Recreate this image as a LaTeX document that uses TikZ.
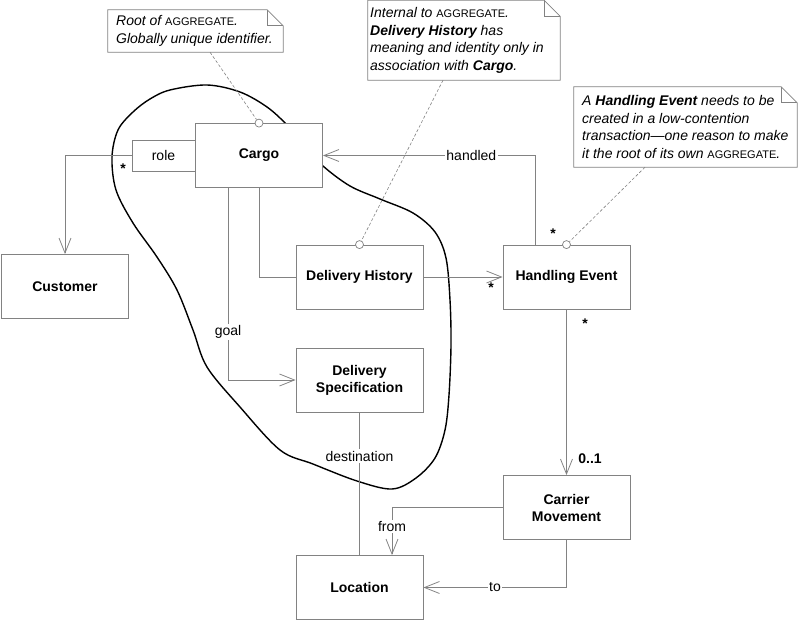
\documentclass[tikz,border=0pt]{standalone}
\usepackage{fontspec}
\setmainfont{Liberation Sans}
\usetikzlibrary{arrows.meta}
\definecolor{linegray}{RGB}{130,130,130}
\newcommand\aggname{{\upshape\fontsize{11}{12}\selectfont AGGREGATE}}
\tikzset{
  cls/.style={draw=linegray, fill=white, line width=0.8pt, font=\bfseries\fontsize{14}{17}\selectfont, align=center, minimum width=127pt, minimum height=64pt, inner sep=0pt},
  qual/.style={draw=linegray, fill=white, line width=0.8pt, font=\fontsize{14}{17}\selectfont, minimum width=63pt, minimum height=31pt, inner sep=0pt},
  notetext/.style={font=\itshape\fontsize{14}{17.5}\selectfont, align=left, inner sep=0pt},
  noteshape/.style={draw=linegray, fill=white, line width=0.8pt},
  conn/.style={draw=linegray, line width=0.8pt},
  navarrow/.style={-{Straight Barb[length=15pt,width=12pt,line width=0.8pt]}},
  lab/.style={fill=white, inner sep=1.5pt, font=\fontsize{14}{16}\selectfont},
  mult/.style={inner sep=0pt, font=\bfseries\fontsize{14}{16}\selectfont},
  noteline/.style={draw=linegray, line width=0.6pt, dash pattern=on 3pt off 2pt},
  notecirc/.style={circle, draw=linegray, fill=white, line width=0.7pt, minimum size=8pt, inner sep=0pt},
  aggline/.style={draw=black, line width=1.4pt}
}
\begin{document}
\begin{tikzpicture}[x=1pt, y=-1pt]
\useasboundingbox (0,0) rectangle (800,620);
% aggregate boundary
\draw[aggline] plot[smooth cycle, tension=0.55] coordinates {
 (112,157) (118,130) (133,112) (150,99) (170,90) (207,85) (240,92) (267,107) (287,125)
 (305,146) (323,166) (350,186) (380,199) (413,213) (435,232) (446,258)
 (450,300) (451,345) (449,395) (445,430) (435,458) (416,478) (392,489)
 (357,481) (313,464) (280,450) (240,407) (207,367) (193,330) (177,290)
 (157,257) (133,223) (116,190)};
% classes
\node[cls] (cargo) at (259,155.5) {Cargo};
\node[qual] (role) at (163.5,155.5) {role};
\node[cls] (cust) at (65,286.5) {Customer};
\node[cls] (dh) at (359.5,277) {Delivery History};
\node[cls] (he) at (566.5,277) {Handling Event};
\node[cls] (ds) at (359.5,380) {Delivery\\Specification};
\node[cls] (cm) at (566.5,507.5) {Carrier\\Movement};
\node[cls] (loc) at (359.5,587.5) {Location};
% connectors
\draw[conn, navarrow] (role.west) -| (cust.north);
\draw[conn] (cargo.south) |- (dh.west);
\draw[conn, navarrow] ([xshift=-31pt]cargo.south) |- node[lab, pos=0.376] (goal) {goal} (ds.west);
\draw[conn, navarrow] (dh.east) -- (he.west);
\draw[conn, navarrow] ([xshift=-31.5pt]he.north) |- node[lab, pos=0.65] (handled) {handled} (cargo.east);
\draw[conn, navarrow] (he.south) -- (cm.north);
\draw[conn] (ds.south) -- node[lab, pos=0.306] (dest) {destination} (loc.north);
\draw[conn, navarrow] (cm.west) -| node[lab, pos=0.698] (from) {from} ([xshift=32.5pt]loc.north);
\draw[conn, navarrow] (cm.south) |- node[lab, pos=0.75] (to) {to} (loc.east);
% multiplicities
\node[mult] (m1) at (123,169) {*};
\node[mult] (m2) at (491,288) {*};
\node[mult] (m3) at (553,234) {*};
\node[mult] (m4) at (585,324) {*};
\node[mult] (m5) at (590,459) {0..1};
% notes
\node[minimum width=175pt, minimum height=42pt, inner sep=0pt] (n1) at (195.5,31) {};
\node[minimum width=192pt, minimum height=79.5pt, inner sep=0pt] (n2) at (464,40.25) {};
\node[minimum width=223pt, minimum height=80pt, inner sep=0pt] (n3) at (685.5,127) {};
\foreach \n in {n1,n2,n3}{
  \draw[noteshape] (\n.north west) -- ([xshift=-16pt]\n.north east) -- ([yshift=-16pt]\n.north east) -- (\n.south east) -- (\n.south west) -- cycle;
  \draw[noteshape, fill=none] ([xshift=-16pt]\n.north east) -- ([xshift=-16pt,yshift=-16pt]\n.north east) -- ([yshift=-16pt]\n.north east);
}
\node[notetext, anchor=west] (t1) at (116,31) {Root of \aggname.\\Globally unique identifier.};
\node[notetext, anchor=west] (t2) at (370,40.5) {Internal to \aggname.\\\textbf{Delivery History} has\\meaning and identity only in\\association with \textbf{Cargo}.};
\node[notetext, anchor=west] (t3) at (582,127) {A \textbf{Handling Event} needs to be\\created in a low-contention\\transaction—one reason to make\\it the root of its own \aggname.};
% note anchors
\node[notecirc] (c1) at (cargo.north) {};
\node[notecirc] (c2) at (dh.north) {};
\node[notecirc] (c3) at (he.north) {};
\draw[noteline] ([xshift=14.5pt]n1.south) -- (c1);
\draw[noteline] ([xshift=-21pt]n2.south) -- (c2);
\draw[noteline] ([xshift=-40.5pt]n3.south) -- (c3);
\end{tikzpicture}
\end{document}
